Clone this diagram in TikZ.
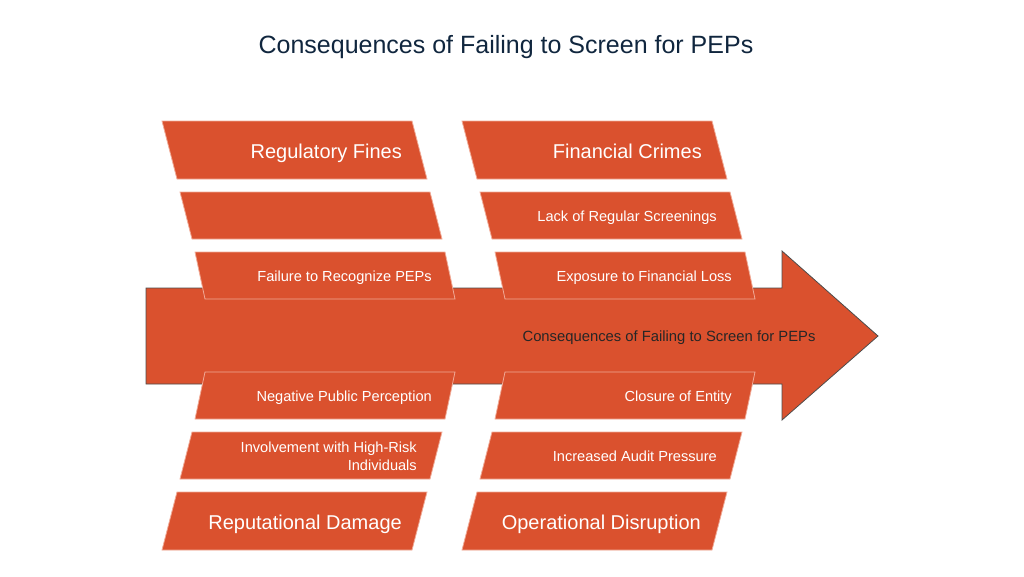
\documentclass[tikz,border=0pt]{standalone}
\usepackage{fontspec}
\setmainfont{Liberation Sans}
\definecolor{pepred}{RGB}{218,81,46}
\definecolor{pepedge}{RGB}{240,170,150}
\definecolor{pepnavy}{RGB}{16,38,62}
\tikzset{
    bar/.style={fill=pepred, draw=pepedge, line width=0.8pt},
    big/.style={anchor=base east, text=white, font=\fontsize{20}{24}\selectfont, inner sep=0pt},
    small/.style={anchor=base east, text=white, font=\fontsize{14.6}{18}\selectfont, inner sep=0pt, align=right}
}
\begin{document}
\begin{tikzpicture}[x=1pt,y=-1pt]
    \useasboundingbox (0,0) rectangle (1024,576);
    \node[anchor=base, text=pepnavy, font=\fontsize{25}{30}\selectfont] (title) at (506,53) {Consequences of Failing to Screen for PEPs};

    % main arrow
    \filldraw[fill=pepred, draw=black!70, line width=0.8pt] (146,288) -- (782,288) -- (782,251) -- (878,336)
        -- (782,420) -- (782,384) -- (146,384) -- cycle;
    \node[anchor=base, text=black!85, font=\fontsize{14.8}{18}\selectfont] (spine) at (669,341) {Consequences of Failing to Screen for PEPs};

    % slanted bars, top half leans one way, bottom half the other
    \foreach \xa/\xb/\ya/\yb in {162/177/121/179, 180/192/192/239, 195/205/252/299,
                                 205/195/372/419, 192/180/432/479, 177/162/492/550} {
        \foreach \dx in {0,300}
            \filldraw[bar] (\xa+\dx,\ya) -- (\xa+\dx+250,\ya) -- (\xb+\dx+250,\yb) -- (\xb+\dx,\yb) -- cycle;
    }

    \node[big] (fines) at (402,158) {Regulatory Fines};
    \node[big] (crimes) at (702,158) {Financial Crimes};
    \node[small] (screenings) at (717,221) {Lack of Regular Screenings};
    \node[small] (recognize) at (432,281) {Failure to Recognize PEPs};
    \node[small] (loss) at (732,281) {Exposure to Financial Loss};
    \node[small] (perception) at (432,401) {Negative Public Perception};
    \node[small] (closure) at (732,401) {Closure of Entity};
    \node[small, anchor=east] (involvement) at (417,456) {Involvement with High-Risk\\Individuals};
    \node[small] (audit) at (717,461) {Increased Audit Pressure};
    \node[big] (reputation) at (402,529) {Reputational Damage};
    \node[big] (disruption) at (701,529) {Operational Disruption};

\end{tikzpicture}
\end{document}
